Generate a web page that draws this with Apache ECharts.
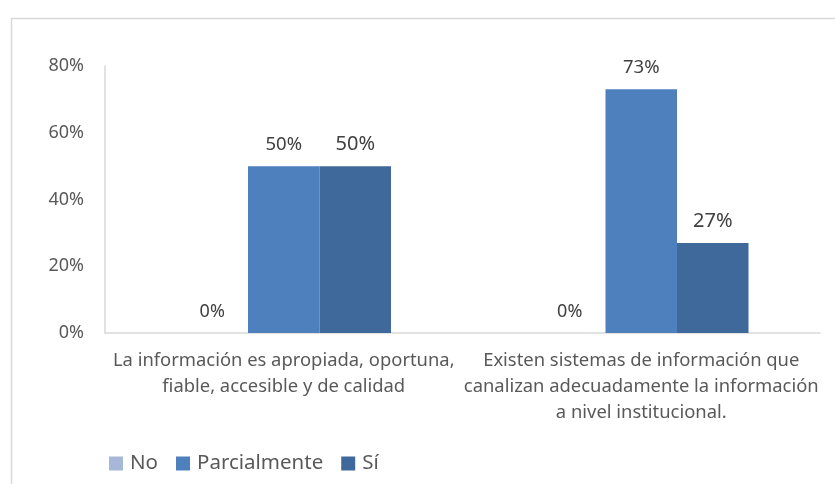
<!DOCTYPE html>
<html>
<head>
<meta charset="utf-8">
<style>
  html, body { margin: 0; padding: 0; background: #ffffff; }
  #chart { width: 835px; height: 484px; }
</style>
<script src="https://cdn.jsdelivr.net/npm/echarts@6/dist/echarts.min.js"></script>
</head>
<body>
<div id="chart"></div>
<script>
// Survey answers per statement, as shares of respondents
const categories = [
  'La información es apropiada, oportuna,\nfiable, accesible y de calidad',
  'Existen sistemas de información que\ncanalizan adecuadamente la información\na nivel institucional.'
];
const seriesNames = ['No', 'Parcialmente', 'Sí'];
const noValues = [0, 0];
const parcialValues = [0.50, 0.73];
const siValues = [0.50, 0.27];
const yTicks = [0, 0.2, 0.4, 0.6, 0.8];

const FONT = 'Noto Sans';
const pct = v => Math.round(v * 100) + '%';

const chart = echarts.init(document.getElementById('chart'), null, { renderer: 'canvas' });

function barSeries(name, data, color, labelSize) {
  return {
    name: name,
    type: 'bar',
    data: data,
    barGap: '0%',
    barCategoryGap: '40%',
    itemStyle: { color: color },
    label: {
      show: true,
      position: 'top',
      distance: 12,
      formatter: p => pct(p.value),
      color: '#404040',
      fontFamily: FONT,
      fontSize: labelSize
    }
  };
}

chart.setOption({
  animation: false,
  backgroundColor: '#ffffff',
  graphic: [{
    type: 'rect',
    left: 9,
    top: 16,
    shape: { width: 900, height: 600 },
    style: { fill: 'none', stroke: '#d9d9d9', lineWidth: 1.5 },
    silent: true
  }],
  grid: { left: 105, right: 15, top: 66, bottom: 151 },
  legend: {
    data: seriesNames,
    left: 104,
    top: 448,
    itemWidth: 14,
    itemHeight: 14,
    itemGap: 18,
    icon: 'rect',
    textStyle: { color: '#595959', fontFamily: FONT, fontSize: 20.5, padding: [0, 0, 0, 2] }
  },
  xAxis: {
    type: 'category',
    data: categories,
    axisLine: { lineStyle: { color: '#d9d9d9', width: 1.5 } },
    axisTick: { show: false },
    axisLabel: {
      interval: 0,
      margin: 15,
      color: '#595959',
      fontFamily: FONT,
      fontSize: 18.4,
      lineHeight: 26
    }
  },
  yAxis: {
    type: 'value',
    min: 0,
    max: yTicks[yTicks.length - 1],
    interval: 0.2,
    axisLine: { show: true, lineStyle: { color: '#d9d9d9', width: 1.5 } },
    axisTick: { show: false },
    splitLine: { show: false },
    axisLabel: {
      formatter: v => pct(v),
      margin: 21,
      color: '#595959',
      fontFamily: FONT,
      fontSize: 18
    }
  },
  series: [
    barSeries(seriesNames[0], noValues, '#a7b7d7', 18),
    barSeries(seriesNames[1], parcialValues, '#4e80bd', 18.5),
    barSeries(seriesNames[2], siValues, '#3f699b', 20)
  ]
});
</script>
</body>
</html>
